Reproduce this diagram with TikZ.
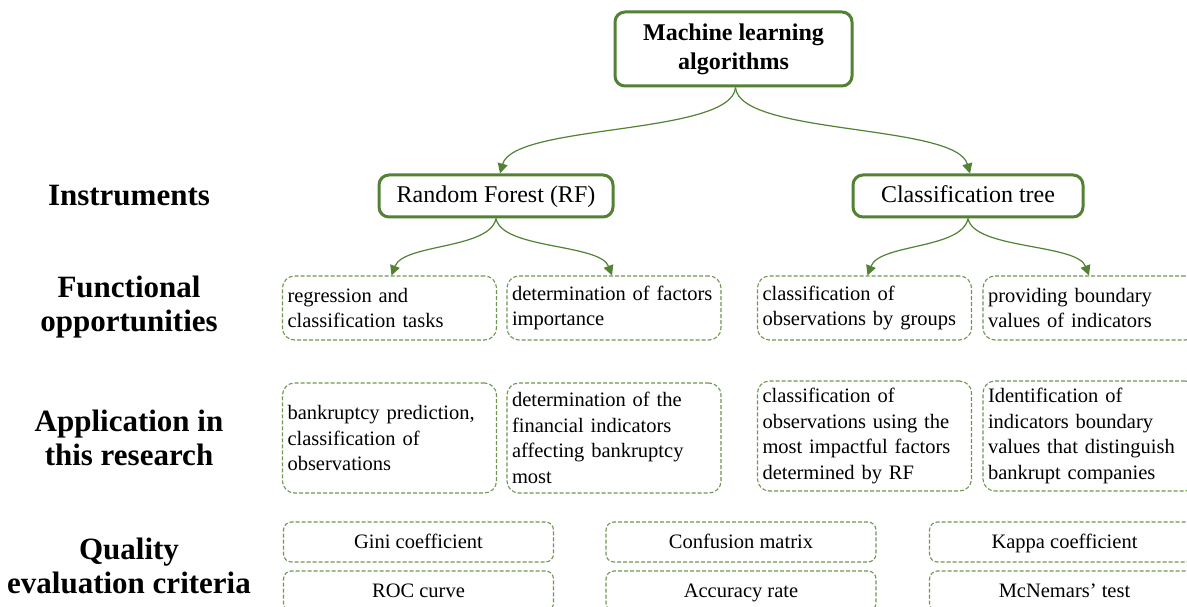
\documentclass[tikz,border=0pt]{standalone}
\usepackage{fontspec}
\setmainfont{Liberation Serif}
\usetikzlibrary{arrows.meta}
\definecolor{gr}{RGB}{84,130,53}
\definecolor{gl}{RGB}{112,150,82}
\tikzset{
  mainbox/.style={draw=gr, line width=3pt, rounded corners=10pt, fill=white, align=center, inner sep=0pt},
  dbox/.style={draw=gl, line width=1.1pt, dash pattern=on 4pt off 2pt, rounded corners=12pt, align=left,
    inner xsep=5pt, inner ysep=0pt, text width=204pt, font=\fontsize{20.5}{25.5}\selectfont},
  crit/.style={draw=gl, line width=1.1pt, dash pattern=on 4pt off 2pt, rounded corners=8pt, align=center,
    minimum width=270pt, minimum height=40pt, inner sep=0pt, text height=17pt, text depth=5pt,
    font=\fontsize{20.5}{25.5}\selectfont},
  lab/.style={font=\bfseries\fontsize{31}{34}\selectfont, align=center, inner sep=0pt},
  arr/.style={draw=gr, line width=1.2pt, -{Triangle[length=10pt,width=10pt]}}
}
\begin{document}
\begin{tikzpicture}[x=1pt,y=-1pt]
\useasboundingbox (0,0) rectangle (1187,607);
\clip (0,0) rectangle (1187,607);
\fill[white] (0,0) rectangle (1187,607);

% left labels
\node[lab] (l1) at (129,196) {Instruments};
\node[lab] (l2) at (129,307) {Functional\\opportunities};
\node[lab] (l3) at (129,438) {Application in\\this research};
\node[lab] (l4) at (129,566) {Quality\\evaluation criteria};

% top
\node[mainbox, minimum width=237pt, minimum height=74pt, font=\bfseries\fontsize{24}{29}\selectfont] (top) at (733.5,49) {Machine learning\\algorithms};

% instruments
\node[mainbox, minimum width=234pt, minimum height=42pt, text height=19pt, text depth=5pt, font=\fontsize{24}{28}\selectfont] (rf) at (496,196) {Random Forest (RF)};
\node[mainbox, minimum width=230pt, minimum height=42pt, text height=19pt, text depth=5pt, font=\fontsize{24}{28}\selectfont] (ct) at (968,196) {Classification tree};

% functional
\node[dbox, minimum height=64pt] (f1) at (389.5,308) {regression and\\classification tasks};
\node[dbox, minimum height=64pt] (f2) at (614,308) {determination of factors\\importance};
\node[dbox, minimum height=64pt] (f3) at (864.5,308) {classification of\\observations by groups};
\node[dbox, minimum height=64pt] (f4) at (1090,308) {providing boundary\\values of indicators};

% application
\node[dbox, minimum height=110pt] (a1) at (389.5,438) {bankruptcy prediction,\\classification of\\observations};
\node[dbox, minimum height=110pt] (a2) at (614,438) {determination of the\\financial indicators\\affecting bankruptcy\\most};
\node[dbox, minimum height=110pt] (a3) at (864.5,436) {classification of\\observations using the\\most impactful factors\\determined by RF};
\node[dbox, minimum height=110pt] (a4) at (1090,436) {Identification of\\indicators boundary\\values that distinguish\\bankrupt companies};

% criteria
\node[crit] (c1) at (418.5,542) {Gini coefficient};
\node[crit] (c2) at (741,542) {Confusion matrix};
\node[crit] (c3) at (1064.5,542) {Kappa coefficient};
\node[crit] (c4) at (418.5,591) {ROC curve};
\node[crit] (c5) at (741,591) {Accuracy rate};
\node[crit] (c6) at (1064.5,591) {McNemars' test};

% arrows
\draw[arr] ([xshift=2pt]top.south) .. controls +(-4,48) and +(14,-50) .. ([xshift=4pt]rf.north);
\draw[arr] ([xshift=2pt]top.south) .. controls +(4,48) and +(-14,-50) .. ([xshift=2pt]ct.north);
\draw[arr] (rf.south) .. controls +(-6,31) and +(12,-32) .. ([xshift=2pt]f1.north);
\draw[arr] (rf.south) .. controls +(6,31) and +(-12,-32) .. ([xshift=-2pt]f2.north);
\draw[arr] (ct.south) .. controls +(-6,31) and +(12,-32) .. ([xshift=3pt]f3.north);
\draw[arr] (ct.south) .. controls +(6,31) and +(-12,-32) .. ([xshift=-1pt]f4.north);
\end{tikzpicture}
\end{document}
